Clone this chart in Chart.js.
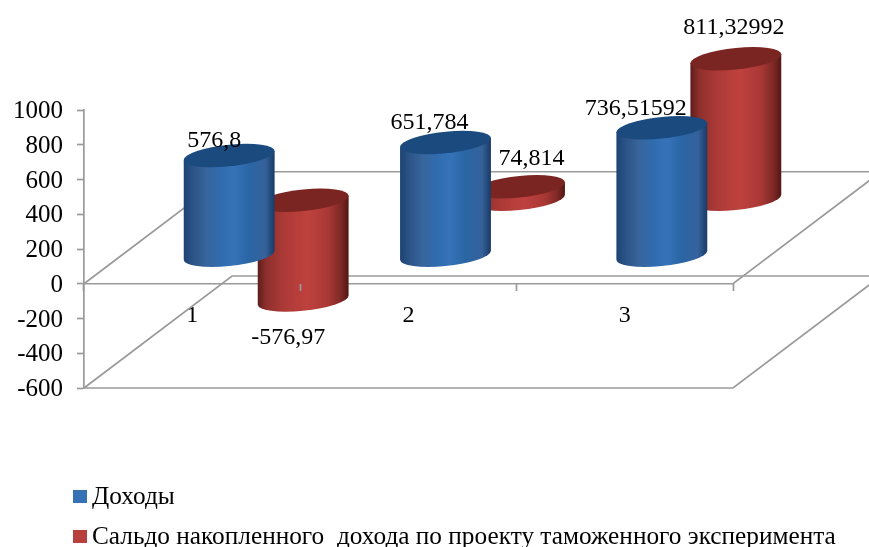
<!DOCTYPE html>
<html lang="ru">
<head>
<meta charset="utf-8">
<title>Доходы и сальдо</title>
<script src="https://cdn.jsdelivr.net/npm/chart.js@4"></script>
<style>
  html, body { margin: 0; padding: 0; background: #fff; overflow: hidden; }
  #box { position: relative; width: 869px; height: 547px; overflow: hidden; }
  #legend div { position: absolute; left: 73px; white-space: pre; font: 25.3px "Liberation Serif", serif; color: #000; line-height: 28px; }
  #legend i { display: inline-block; width: 14px; height: 13px; margin-right: 5px; vertical-align: 1px; }
</style>
</head>
<body>
<div id="box">
  <canvas id="chart" width="869" height="547"></canvas>
  <div id="legend"></div>
</div>
<script>
const categories = ['1', '2', '3'];
const incomeLabel = 'Доходы';
const balanceLabel = 'Сальдо накопленного  дохода по проекту таможенного эксперимента';
const incomeValues = [576.8, 651.784, 736.51592];
const balanceValues = [-576.97, 74.814, 811.32992];
const yTicks = { min: -600, max: 1000, step: 200 };

const GRAY = '#9a9a9a';
const FONT = '"Liberation Serif", serif';

// floor depth in pixels, and how far back each series stands
const DEPTH_X = 148;
const DEPTH_Y = -112;
const seriesDepth = [0.25, 0.75];

// the labels were moved by hand in the original: [dx, dy] from the bar end
const labelShift = [
  [[-15, -15], [-16, -20], [-26, -19]],
  [[-15, 38], [12, -28], [-2, -31]]
];

const bodyStops = [
  [[0, '#1e4373'], [0.1, '#2b5387'], [0.25, '#38659c'], [0.42, '#2f6cb0'], [0.55, '#3572b8'], [0.72, '#2a66a5'], [0.9, '#35619a'], [1, '#183a66']],
  [[0, '#5e1d1b'], [0.1, '#8f302d'], [0.3, '#ad3a37'], [0.55, '#bf413e'], [0.78, '#a83835'], [0.92, '#7c2825'], [1, '#521614']]
];
const capColors = ['#1b4a7e', '#7a2522'];

function cylinder(ctx, cx, top, bottom, rx, series) {
  const ry = 10.8;
  ctx.save();
  ctx.transform(1, -0.1, 0, 1, cx, 0); // the ellipses lean up to the right
  const grad = ctx.createLinearGradient(-rx, 0, rx, 0);
  bodyStops[series].forEach(s => grad.addColorStop(s[0], s[1]));
  ctx.fillStyle = grad;
  ctx.beginPath();
  ctx.moveTo(-rx, top);
  ctx.lineTo(-rx, bottom);
  ctx.ellipse(0, bottom, rx, ry, 0, Math.PI, 0, true);
  ctx.lineTo(rx, top);
  ctx.closePath();
  ctx.fill();
  ctx.fillStyle = capColors[series];
  ctx.beginPath();
  ctx.ellipse(0, top, rx, ry, 0, 0, Math.PI * 2);
  ctx.fill();
  ctx.restore();
}

const floorPlugin = {
  id: 'floor',
  beforeDatasetsDraw(chart) {
    const { ctx, scales: { x, y } } = chart;
    const left = x.left, right = x.right;
    [0, yTicks.min].forEach(v => {
      const py = y.getPixelForValue(v);
      ctx.save();
      ctx.strokeStyle = GRAY;
      ctx.lineWidth = 1.7;
      ctx.beginPath();
      ctx.moveTo(left, py);
      ctx.lineTo(left + DEPTH_X, py + DEPTH_Y);
      ctx.lineTo(right + DEPTH_X, py + DEPTH_Y);
      ctx.lineTo(right, py);
      ctx.lineTo(left, py);
      ctx.stroke();
      ctx.restore();
    });
  }
};

const cylinderPlugin = {
  id: 'cylinders',
  afterDatasetsDraw(chart) {
    const ctx = chart.ctx;
    // back series first, the front one covers it
    [1, 0].forEach(series => {
      chart.getDatasetMeta(series).data.forEach(bar => {
        const p = bar.getProps(['x', 'y', 'base', 'width']);
        const dy = DEPTH_Y * seriesDepth[series];
        cylinder(ctx, p.x + DEPTH_X * seriesDepth[series],
          Math.min(p.y, p.base) + dy, Math.max(p.y, p.base) + dy, p.width / 2, series);
      });
    });
    ctx.save();
    ctx.font = '24px ' + FONT;
    ctx.fillStyle = '#000';
    ctx.textAlign = 'center';
    ctx.textBaseline = 'middle';
    [0, 1].forEach(series => {
      chart.getDatasetMeta(series).data.forEach((bar, i) => {
        const shift = labelShift[series][i];
        const text = String(chart.data.datasets[series].data[i]).replace('.', ',');
        ctx.fillText(text, bar.x + DEPTH_X * seriesDepth[series] + shift[0],
          bar.y + DEPTH_Y * seriesDepth[series] + shift[1]);
      });
    });
    ctx.restore();
  }
};

const chart = new Chart(document.getElementById('chart').getContext('2d'), {
  type: 'bar',
  data: {
    labels: categories,
    datasets: [
      { label: incomeLabel, data: incomeValues, backgroundColor: 'transparent', legendColor: '#3571b5' },
      { label: balanceLabel, data: balanceValues, backgroundColor: 'transparent', legendColor: '#b8403c' }
    ]
  },
  options: {
    responsive: false,
    animation: false,
    devicePixelRatio: 1,
    grouped: false,
    categoryPercentage: 1,
    barPercentage: 0.42,
    layout: { padding: { top: 110, right: 136, bottom: 159, left: 0 } },
    plugins: { legend: { display: false }, tooltip: { enabled: false } },
    scales: {
      x: {
        position: { y: 0 },
        grid: { drawOnChartArea: false, tickLength: 7, tickColor: GRAY, tickWidth: 1.7, z: 1 },
        border: { display: false },
        ticks: { color: '#000', font: { family: FONT, size: 24 }, padding: 11, maxRotation: 0 }
      },
      y: {
        min: yTicks.min,
        max: yTicks.max,
        afterFit(scale) { scale.width = 84; },
        grid: { drawOnChartArea: false, tickLength: 7, tickColor: GRAY, tickWidth: 1.7 },
        border: { color: GRAY, width: 1.7 },
        ticks: {
          stepSize: yTicks.step,
          color: '#000',
          font: { family: FONT, size: 25 },
          padding: 14,
          labelOffset: 1.5,
          callback: v => String(v)
        }
      }
    }
  },
  plugins: [floorPlugin, cylinderPlugin]
});

// legend under the chart
const legendTops = [481, 521];
chart.data.datasets.forEach((ds, i) => {
  const row = document.createElement('div');
  row.style.top = legendTops[i] + 'px';
  const mark = document.createElement('i');
  mark.style.background = ds.legendColor;
  row.appendChild(mark);
  row.appendChild(document.createTextNode(ds.label));
  document.getElementById('legend').appendChild(row);
});
</script>
</body>
</html>
